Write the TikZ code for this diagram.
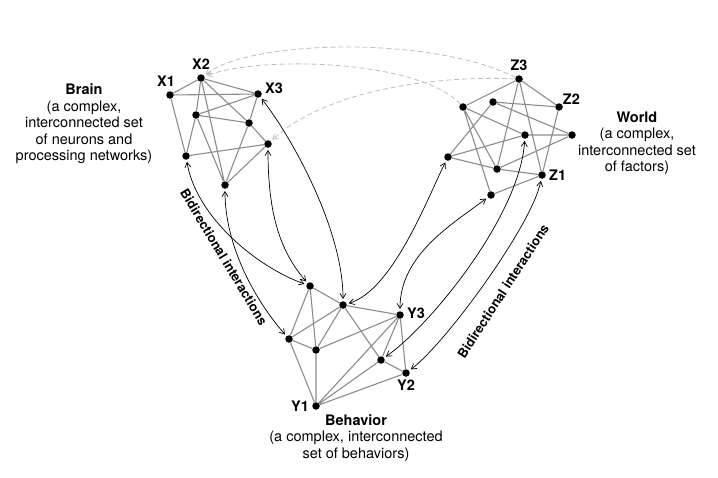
\documentclass[tikz,border=0pt]{standalone}
\usepackage{fontspec}
\setmainfont{TeX Gyre Heros}
\usetikzlibrary{positioning,arrows.meta}
\definecolor{linkcol}{RGB}{140,140,140}
\definecolor{dashcol}{RGB}{190,190,190}

\begin{document}
\begin{tikzpicture}[
  x=1pt, y=-1pt,
  every node/.style={font=\fontsize{14.5}{16.5}\selectfont},
  dot/.style={circle, fill=black, inner sep=0pt, minimum size=7.5pt},
  lab/.style={font=\fontsize{14.5}{16}\selectfont\bfseries, inner sep=1pt},
  desc/.style={align=center, inner sep=0pt},
  tag/.style={font=\fontsize{13}{15}\selectfont\bfseries, inner sep=0pt},
  link/.style={draw=linkcol, line width=1.1pt},
  arr/.style={{Straight Barb[length=5pt,width=6pt]}-{Straight Barb[length=5pt,width=6pt]}, line width=0.7pt, shorten <=2pt, shorten >=2pt},
  ghost/.style={-{Straight Barb[length=5pt,width=6pt]}, draw=dashcol, dash pattern=on 5pt off 3pt, line width=0.8pt, shorten >=2pt}
]
\useasboundingbox (0,0) rectangle (718,477);

% ---------------- brain network ----------------
\node[dot] (X1) at (170,95) {};
\node[dot] (X2) at (201,78) {};
\node[dot] (X3) at (258,94) {};
\node[dot] (xa) at (196,115) {};
\node[dot] (xb) at (249,123) {};
\node[dot] (xc) at (268,144) {};
\node[dot] (xd) at (186,156) {};
\node[dot] (xe) at (225,185) {};

\draw[link] (X1) -- (X2) (X1) -- (X3) (X2) -- (X3) (X1) -- (xd)
  (X2) -- (xa) (X2) -- (xb) (X2) -- (xe) (xa) -- (X3) (xa) -- (xb)
  (xa) -- (xd) (xa) -- (xe) (X3) -- (xb) (xb) -- (xe) (xb) -- (xc)
  (xc) -- (xd) (xc) -- (xe);

\node[lab, above=3pt of X1, xshift=-4pt] (X1t) {X1};
\node[lab, above=3pt of X2] (X2t) {X2};
\node[lab, right=2pt of X3, yshift=6pt] (X3t) {X3};

\node[desc] (brain) at (84,124) {\textbf{Brain}\\(a complex,\\interconnected set\\of neurons and\\processing networks)};

% ---------------- world network ----------------
\node[dot] (Z3) at (519,79) {};
\node[dot] (Z2) at (559,107) {};
\node[dot] (za) at (463,107) {};
\node[dot] (zb) at (493,102) {};
\node[dot] (zc) at (525,135) {};
\node[dot] (zd) at (572,135) {};
\node[dot] (ze) at (448,157) {};
\node[dot] (zf) at (497,169) {};
\node[dot] (Z1) at (542,175) {};
\node[dot] (zg) at (491,195) {};

\draw[link] (Z3) -- (za) (Z3) -- (Z2) (Z3) -- (zf) (Z3) -- (Z1)
  (za) -- (zc) (za) -- (zf) (za) -- (zg) (zb) -- (Z2) (zb) -- (zd)
  (zb) -- (ze) (zc) -- (ze) (zc) -- (zd) (Z2) -- (Z1) (ze) -- (zf)
  (zf) -- (Z1) (zf) -- (zd) (Z1) -- (zg);

\node[lab, above=3pt of Z3] (Z3t) {Z3};
\node[lab, above right=-1pt and 0pt of Z2] (Z2t) {Z2};
\node[lab, right=2pt of Z1] (Z1t) {Z1};

\node[desc] (world) at (637,143) {\textbf{World}\\(a complex,\\interconnected set\\of factors)};

% ---------------- behavior network ----------------
\node[dot] (ya) at (310,286) {};
\node[dot] (yb) at (343,305) {};
\node[dot] (Y3) at (400,315) {};
\node[dot] (yc) at (289,339) {};
\node[dot] (yd) at (316,350) {};
\node[dot] (ye) at (381,360) {};
\node[dot] (Y2) at (406,373) {};
\node[dot] (Y1) at (316,406) {};

\draw[link] (ya) -- (yb) (ya) -- (yc) (ya) -- (yd) (yb) -- (yc)
  (yb) -- (yd) (yb) -- (Y3) (yb) -- (ye) (yc) -- (yd) (yc) -- (Y1)
  (yd) -- (Y3) (yd) -- (Y1) (Y3) -- (ye) (Y3) -- (Y2) (Y3) -- (Y1)
  (ye) -- (Y2) (ye) -- (Y1) (Y2) -- (Y1);

\node[lab, right=2pt of Y3, yshift=2pt] (Y3t) {Y3};
\node[lab, below=2pt of Y2] (Y2t) {Y2};
\node[lab, left=2pt of Y1] (Y1t) {Y1};

\node[desc] (behav) at (356,438) {\textbf{Behavior}\\(a complex, interconnected\\set of behaviors)};

% ---------------- world -> brain (dashed) ----------------
\draw[ghost] (Z3) .. controls (430,35) and (250,40) .. (X2);
\draw[ghost] (za) .. controls (420,60) and (260,55) .. (X2);
\draw[ghost] (Z3) .. controls (420,75) and (320,95) .. (xc);

% ---------------- brain <-> behavior ----------------
\draw[arr] (X3) .. controls +(35,45) and +(0,-75) .. (yb);
\draw[arr] (xc) .. controls +(0,70) and +(-30,-35) .. (ya);
\draw[arr] (xd) .. controls +(10,60) and +(-55,-20) .. (ya);
\draw[arr] (xe) .. controls +(0,60) and +(-35,-40) .. (yc);
\node[tag, rotate=-59] (ltag) at (224,257) {Bidirectional interactions};

% ---------------- world <-> behavior ----------------
\draw[arr] (ze) .. controls +(-20,40) and +(50,-15) .. (yb);
\draw[arr] (zg) .. controls +(-40,30) and +(0,-60) .. (Y3);
\draw[arr] (zc) .. controls +(-5,80) and +(50,-35) .. (ye);
\draw[arr] (Z1) .. controls +(-10,50) and +(40,-30) .. (Y2);
\node[tag, rotate=57] (rtag) at (503,291) {Bidirectional interactions};

\end{tikzpicture}
\end{document}
